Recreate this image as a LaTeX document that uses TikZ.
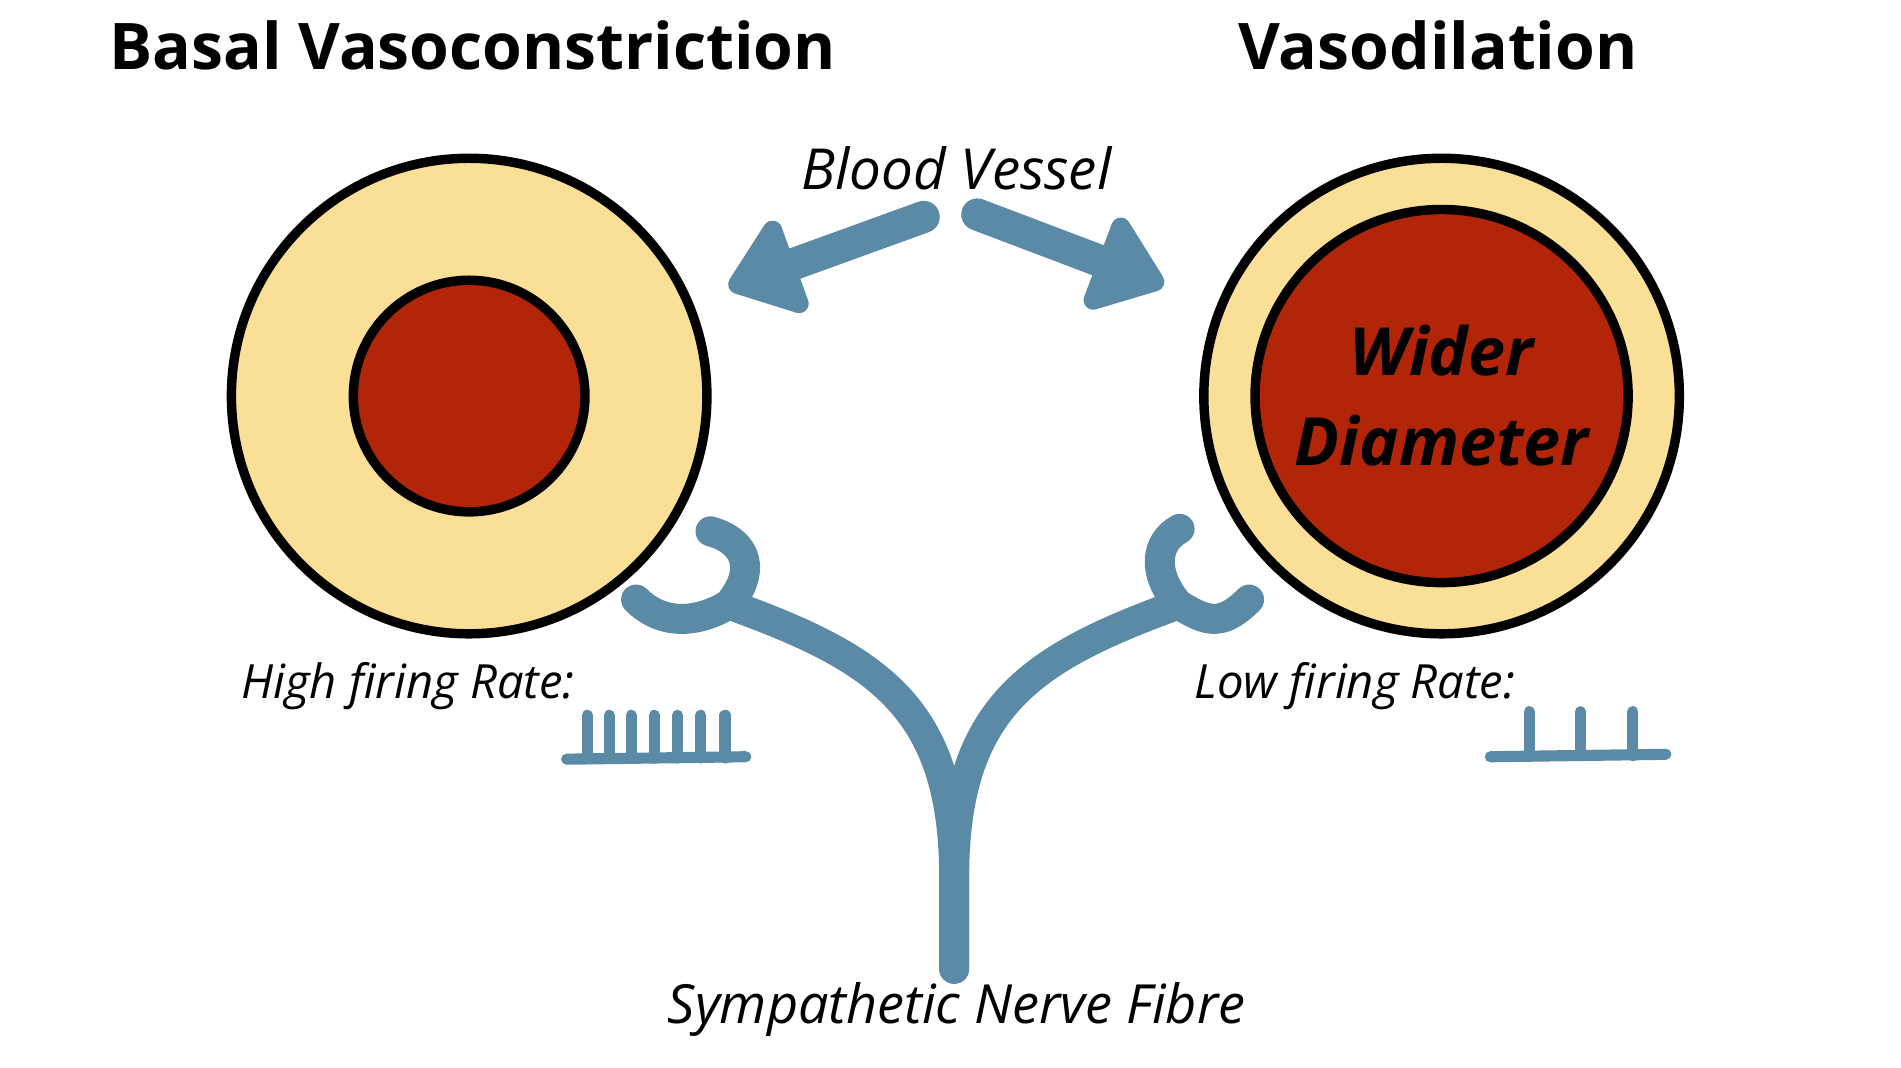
\documentclass[tikz,border=0pt]{standalone}
\usepackage{fontspec}
\setmainfont{Open Sans}
\usetikzlibrary{arrows.meta, positioning}
\definecolor{wallfill}{HTML}{FADF97}
\definecolor{lumenfill}{HTML}{B22508}
\definecolor{nerveblue}{HTML}{5A8AA6}
\begin{document}
\begin{tikzpicture}[x=0.01cm,y=-0.01cm,
    wall/.style={circle, draw=black, line width=2.2pt, fill=wallfill, inner sep=0pt},
    lumen/.style={circle, draw=black, line width=2.2pt, fill=lumenfill, inner sep=0pt},
    title/.style={font=\fontsize{15}{18}\selectfont\bfseries},
    label/.style={font=\fontsize{13.2}{16}\selectfont\itshape},
    rate/.style={font=\fontsize{11}{13}\selectfont\itshape},
    nerve/.style={draw=nerveblue, line width=7pt, line cap=round, line join=round},
    spike/.style={draw=nerveblue, line width=2.6pt, line cap=round},
    pointer/.style={draw=nerveblue, line width=7.5pt, line cap=round,
        -{Triangle[length=18pt, width=26pt, round]}}]
  \useasboundingbox (0,0) rectangle (1560,876);

  % titles
  \node[title] (titleL) at (388,37) {Basal Vasoconstriction};
  \node[title] (titleR) at (1180,37) {Vasodilation};

  % vessels
  \node[wall, minimum size=3.9cm] (wallL) at (385,325) {};
  \node[lumen, minimum size=1.9cm] (lumenL) at (385,325) {};
  \node[wall, minimum size=3.9cm] (wallR) at (1183,325) {};
  \node[lumen, minimum size=3.06cm, align=center,
        font=\fontsize{15.5}{21}\selectfont\bfseries\itshape] (lumenR) at (1183,325) {Wider\\Diameter};

  % labels
  \node[label] (vessel) at (785,138) {Blood Vessel};
  \node[label, font=\fontsize{12.6}{15}\selectfont\itshape] (fibre) at (785,828) {Sympathetic Nerve Fibre};
  \node[rate] (high) at (335,563) {High firing Rate:};
  \node[rate] (low) at (1112,563) {Low firing Rate:};

  \coordinate (tailL) at (758,178);
  \coordinate (tipL) at (598,236);
  \coordinate (tailR) at (802,176);
  \coordinate (tipR) at (955,234);
  \draw[pointer] (tailL) -- (tipL);
  \draw[pointer] (tailR) -- (tipR);

  % nerve fibre
  \coordinate (root) at (783,795);
  \coordinate (forkL) at (598,496);
  \coordinate (forkR) at (967,496);
  \draw[nerve] (root) -- (783,720) .. controls (783,580) and (720,540) .. (forkL);
  \draw[nerve] (root) -- (783,720) .. controls (783,580) and (846,540) .. (forkR);
  \draw[nerve] (522,492) .. controls (545,515) and (575,510) .. (forkL)
               .. controls (620,470) and (615,445) .. (583,436);
  \draw[nerve] (1025,492) .. controls (1002,515) and (990,510) .. (forkR)
               .. controls (945,470) and (948,445) .. (968,434);

  % firing rates
  \draw[spike] (465,623) -- (612,621);
  \foreach \x in {482,500,518,537,556,575,595}
    \draw[spike] (\x,622) -- (\x,587);
  \draw[spike] (1223,621) -- (1367,619);
  \foreach \x in {1255,1297,1340}
    \draw[spike] (\x,620) -- (\x,584);
\end{tikzpicture}
\end{document}
